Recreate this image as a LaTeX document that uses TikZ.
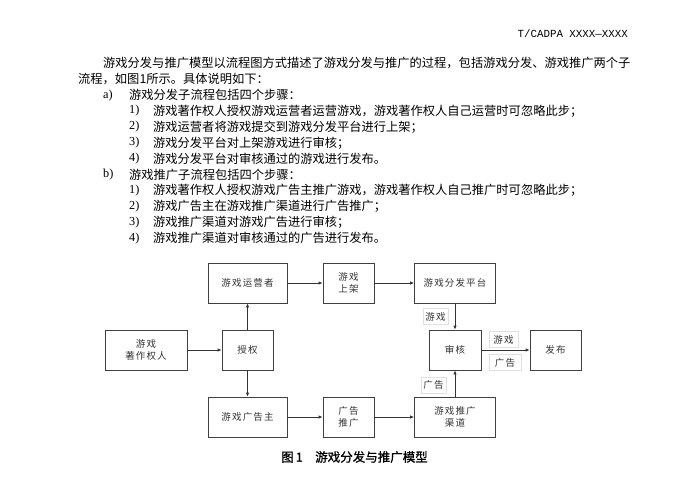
\documentclass[tikz,border=0pt]{standalone}
\usepackage{fontspec}
\setmainfont{Noto Sans CJK SC}
\newfontfamily\latinfont{Liberation Serif}
\newfontfamily\headfont{Liberation Mono}
\newfontfamily\diagfont[LetterSpace=12]{Noto Sans CJK SC}
\newfontfamily\capfont[FakeBold=1]{Noto Sans CJK SC}
\usetikzlibrary{arrows.meta,positioning}

\begin{document}
\begin{tikzpicture}[x=1pt,y=-1pt,
  txt/.style={anchor=west,inner sep=0pt,font=\fontsize{12.26}{14}\selectfont},
  num/.style={txt,font=\latinfont\fontsize{12.26}{14}\selectfont},
  box/.style={draw=black!75,line width=0.8pt,minimum height=40pt,inner sep=1pt,
    align=center,text=black!80,font=\diagfont\fontsize{9.5}{12}\selectfont},
  tag/.style={draw=black!12,fill=white,inner sep=0pt,minimum height=16pt,
    text=black!80,font=\diagfont\fontsize{9.5}{12}\selectfont},
  flow/.style={draw=black!80,line width=0.8pt,-{Latex[length=4pt,width=3.5pt]}}]
  \useasboundingbox (0,0) rectangle (690,479);
  % Header and text.
  \node[anchor=east,inner sep=0pt,font=\headfont\fontsize{10.8}{12}\selectfont] (head) at (628,34) {T/CADPA XXXX—XXXX};
  \node[txt] (intro1) at (103,63.3) {游戏分发与推广模型以流程图方式描述了游戏分发与推广的过程，包括游戏分发、游戏推广两个子};
  \node[txt] (intro2) at (78,79.2) {流程，如图1所示。具体说明如下：};
  \node[num] (itema) at (103,95.1) {a)};
  \node[txt] (itematext) at (129,95.1) {游戏分发子流程包括四个步骤：};
  \foreach \t [count=\i] in {游戏著作权人授权游戏运营者运营游戏，游戏著作权人自己运营时可忽略此步；,
    游戏运营者将游戏提交到游戏分发平台进行上架；,
    游戏分发平台对上架游戏进行审核；,
    游戏分发平台对审核通过的游戏进行发布。} {
    \node[num] (numa\i) at (129,{95.1+15.9*\i}) {\i)};
    \node[txt] (stepa\i) at (153,{95.1+15.9*\i}) {\t};
  }
  \node[num] (itemb) at (103,174.6) {b)};
  \node[txt] (itembtext) at (129,174.6) {游戏推广子流程包括四个步骤：};
  \foreach \t [count=\i] in {游戏著作权人授权游戏广告主推广游戏，游戏著作权人自己推广时可忽略此步；,
    游戏广告主在游戏推广渠道进行广告推广；,
    游戏推广渠道对游戏广告进行审核；,
    游戏推广渠道对审核通过的广告进行发布。} {
    \node[num] (numb\i) at (129,{174.6+15.9*\i}) {\i)};
    \node[txt] (stepb\i) at (153,{174.6+15.9*\i}) {\t};
  }
  % The flow chart.
  \node[box,minimum width=82pt] (owner) at (146,350) {游戏\\著作权人};
  \node[box,minimum width=51pt] (grant) at (247.5,350) {授权};
  \node[box,minimum width=79pt] (operator) at (247.5,283) {游戏运营者};
  \node[box,minimum width=51pt] (listing) at (348.5,283) {游戏\\上架};
  \node[box,minimum width=81pt] (platform) at (455,283) {游戏分发平台};
  \node[box,minimum width=52pt] (review) at (455,350) {审核};
  \node[box,minimum width=51pt] (release) at (555.5,350) {发布};
  \node[box,minimum width=79pt] (advertiser) at (247.5,417) {游戏广告主};
  \node[box,minimum width=51pt] (promo) at (348.5,417) {广告\\推广};
  \node[box,minimum width=81pt] (channel) at (455,417) {游戏推广\\渠道};
  \draw[flow] (owner) -- (grant);
  \draw[flow] (grant) -- (operator);
  \draw[flow] (grant) -- (advertiser);
  \draw[flow] (operator) -- (listing);
  \draw[flow] (listing) -- (platform);
  \draw[flow] (advertiser) -- (promo);
  \draw[flow] (promo) -- (channel);
  \draw[flow] (platform) -- (review);
  \draw[flow] (channel) -- (review);
  \draw[flow] (review) -- (release);
  % Labels on the arrows.
  \node[tag,minimum width=25pt] (gametop) at (435.5,316.5) {游戏};
  \node[tag,minimum width=29pt] (gameright) at (503.5,339.5) {游戏};
  \node[tag,minimum width=32pt] (adright) at (505,362.5) {广告};
  \node[tag,minimum width=25pt] (adbottom) at (433.5,385) {广告};
  % Caption.
  \node[font=\capfont\fontsize{12.5}{14}\selectfont] (caption) at (354.5,457) {图\,1\hspace{1em}游戏分发与推广模型};
\end{tikzpicture}
\end{document}
